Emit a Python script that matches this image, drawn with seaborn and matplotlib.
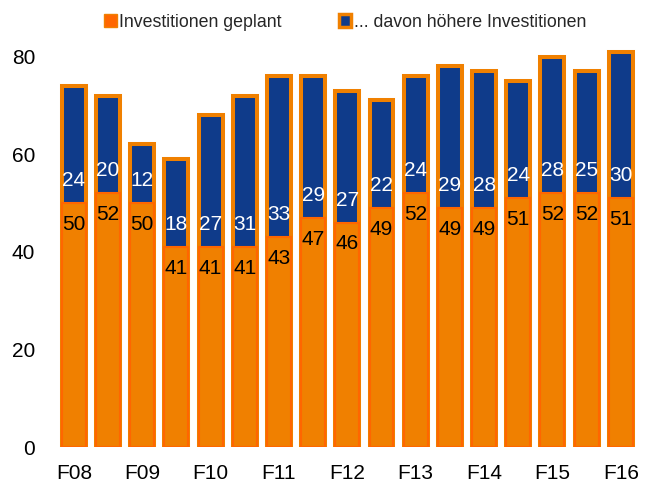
import matplotlib
matplotlib.use("Agg")
import matplotlib.pyplot as plt
import seaborn as sns
import numpy as np
from matplotlib.patches import Patch

# half-year survey waves (F = Frühjahr, H = Herbst)
periods = ["F08", "H08", "F09", "H09", "F10", "H10", "F11", "H11", "F12",
           "H12", "F13", "H13", "F14", "H14", "F15", "H15", "F16"]
geplant = [50, 52, 50, 41, 41, 41, 43, 47, 46, 49, 52, 49, 49, 51, 52, 52, 51]
hoeher = [24, 20, 12, 18, 27, 31, 33, 29, 27, 22, 24, 29, 28, 24, 28, 25, 30]
yticks = [0, 20, 40, 60, 80]

orange = "#F08000"
orange_edge = "#FF6600"
blue = "#0F3B8A"

sns.set_style("white")
plt.rcParams["font.family"] = ["Liberation Sans", "DejaVu Sans"]

totals = np.array(geplant) + np.array(hoeher)

fig = plt.figure(figsize=(6.45, 4.84), dpi=100)
ax = fig.add_axes([0.088, 0.0764, 0.901, 0.837])

# full height bar in blue with orange frame, orange part drawn over it
sns.barplot(x=periods, y=totals, order=periods, color=blue, saturation=1,
            width=0.7, edgecolor=orange, linewidth=2.9, ax=ax)
sns.barplot(x=periods, y=geplant, order=periods, color=orange, saturation=1,
            width=0.7, edgecolor=orange_edge, linewidth=1.5, ax=ax)

for i, (g, h) in enumerate(zip(geplant, hoeher)):
    ax.text(i, g - 4.4, str(g), ha="center", va="center", fontsize=15, color="black")
    ax.text(i, g + 4.6, str(h), ha="center", va="center", fontsize=15, color="white")

ax.set_ylim(0, 83)
ax.set_xlim(-0.5, len(periods) - 0.5)
ax.set_yticks(yticks)
ax.set_xticks(range(len(periods)))
ax.set_xticklabels([p if p.startswith("F") else "" for p in periods])
ax.tick_params(axis="both", length=0, labelsize=15, colors="black")
ax.tick_params(axis="x", pad=12)
ax.tick_params(axis="y", pad=15.5)
ax.set_xlabel("")
ax.set_ylabel("")
sns.despine(ax=ax, left=True, bottom=True)

handles = [
    Patch(facecolor=orange_edge, edgecolor=orange, linewidth=1),
    Patch(facecolor=blue, edgecolor=orange, linewidth=2.5),
]
fig.legend(handles, ["Investitionen geplant", "... davon höhere Investitionen"],
           loc="upper center", bbox_to_anchor=(0.535, 1.005), ncol=2, frameon=False,
           fontsize=12.8, handlelength=0.7, handleheight=0.7, handletextpad=0.15,
           columnspacing=3.2)

fig.savefig("out.png", dpi=100)
